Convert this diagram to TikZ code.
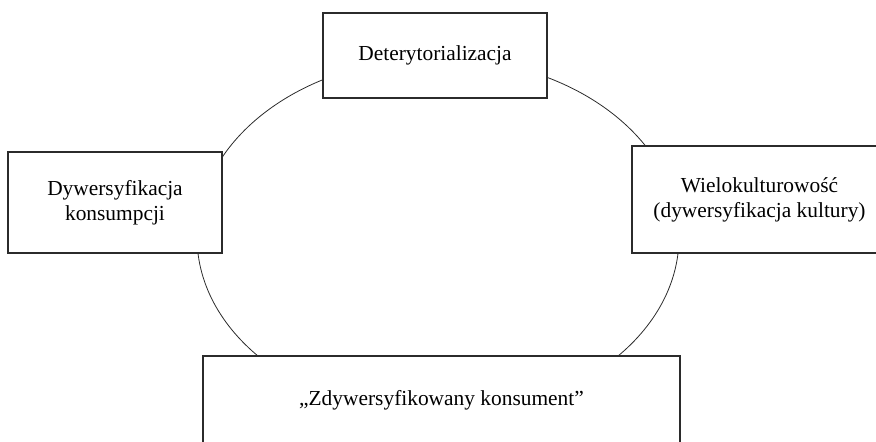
\documentclass[tikz,border=0pt]{standalone}
\usepackage{fontspec}
\setmainfont{Liberation Serif}
\usepackage{xcolor}
\usepackage{tikz}
\usetikzlibrary{positioning, arrows.meta}
\definecolor{bLine}{HTML}{2B2B2B}

\begin{document}
\begin{tikzpicture}[x=0.5pt, y=-0.5pt]
  \useasboundingbox (0,0) rectangle (876,441);
  \coordinate (ctr) at (438,237);
  \draw[bLine, line width=0.4pt] (ctr) ellipse [x radius=241, y radius=179];
  \node[draw=bLine, fill=white, line width=0.55pt, align=center, font=\fontsize{10.7}{12.4}\selectfont, minimum height=42.5pt,
    minimum width=112pt] (deter) at (435,55.5) {Deterytorializacja};
  \node[draw=bLine, fill=white, line width=0.55pt, align=center, font=\fontsize{10.7}{12.4}\selectfont, minimum height=50.5pt,
    minimum width=107pt] (konsumpcja) at (115,202.5) {Dywersyfikacja\\konsumpcji};
  \node[draw=bLine, fill=white, line width=0.55pt, align=center, font=\fontsize{10.7}{12.4}\selectfont, minimum height=53.5pt,
    minimum width=127.5pt] (wielokult) at (759.5,199.5) {Wielokulturowość\\(dywersyfikacja kultury)};
  \node[draw=bLine, fill=white, line width=0.55pt, align=center, font=\fontsize{10.7}{12.4}\selectfont, minimum height=44.5pt,
    minimum width=238.5pt] (konsument) at (441.5,400.5) {„Zdywersyfikowany konsument”};
\end{tikzpicture}
\end{document}
